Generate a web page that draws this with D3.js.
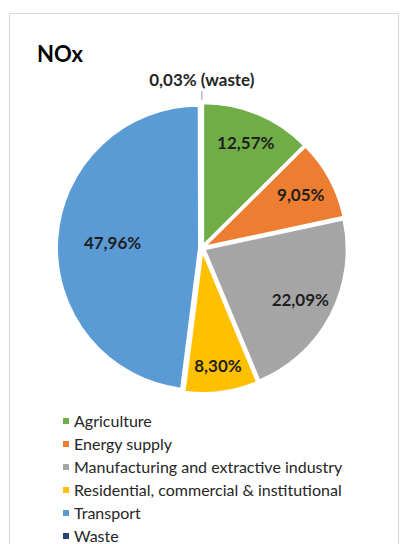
<!DOCTYPE html>
<html>
<head>
<meta charset="utf-8">
<script src="https://cdn.jsdelivr.net/npm/d3@7/dist/d3.min.js"></script>
<style>
  html, body { margin: 0; padding: 0; background: #ffffff; }
  svg { display: block; }
  text { font-family: Lato, "Open Sans", sans-serif; }
</style>
</head>
<body>
<svg id="chart" width="400" height="544"></svg>
<script>
// NOx emissions by sector (share of total, %)
const sectors = [
  "Agriculture",
  "Energy supply",
  "Manufacturing and extractive industry",
  "Residential, commercial & institutional",
  "Transport",
  "Waste"
];
const shares = [12.57, 9.05, 22.09, 8.30, 47.96, 0.03];
const valueLabels = ["12,57%", "9,05%", "22,09%", "8,30%", "47,96%", "0,03% (waste)"];
const colors = ["#70ad47", "#ed7d31", "#a5a5a5", "#ffc000", "#5b9bd5", "#264478"];

const svg = d3.select("#chart");

// chart frame
svg.append("rect")
  .attr("x", 9.5).attr("y", 13.5)
  .attr("width", 389).attr("height", 560)
  .attr("fill", "#ffffff")
  .attr("stroke", "#d9d9d9")
  .attr("stroke-width", 1);

// title
svg.append("text")
  .attr("x", 37).attr("y", 62)
  .attr("font-size", 22).attr("font-weight", 700)
  .attr("fill", "#000000")
  .text("NOx");

// pie layout
const cx = 202, cy = 248, R = 142, explode = 3;
const data = sectors.map((s, i) => ({ sector: s, value: shares[i], label: valueLabels[i], color: colors[i] }));
const pie = d3.pie().value(d => d.value).sort(null).startAngle(0).endAngle(2 * Math.PI);
const arcs = pie(data);
const arc = d3.arc().innerRadius(0).outerRadius(R);

const g = svg.append("g").attr("transform", `translate(${cx},${cy})`);

function offset(a, dist) {
  const m = (a.startAngle + a.endAngle) / 2;
  return [Math.sin(m) * dist, -Math.cos(m) * dist];
}

g.selectAll("path.slice")
  .data(arcs)
  .join("path")
  .attr("class", "slice")
  .attr("d", arc)
  .attr("transform", d => { const [x, y] = offset(d, explode); return `translate(${x},${y})`; })
  .attr("fill", d => d.data.color)
  .attr("stroke", "#ffffff")
  .attr("stroke-width", 2);

// inside labels: radial depth per slice (fraction of the radius)
const labelDepth = [0.78, 0.77, 0.76, 0.82, 0.61];
g.selectAll("text.val")
  .data(arcs.slice(0, 5))
  .join("text")
  .attr("class", "val")
  .attr("transform", (d, i) => {
    const [ox, oy] = offset(d, explode);
    const [lx, ly] = offset(d, R * labelDepth[i]);
    return `translate(${ox + lx},${oy + ly})`;
  })
  .attr("text-anchor", "middle")
  .attr("dy", "0.36em")
  .attr("font-size", 17).attr("font-weight", 700)
  .attr("fill", "#1f1f1f")
  .text(d => d.data.label);

// outside label for the tiny waste slice, with leader line
const waste = arcs[5];
const wm = (waste.startAngle + waste.endAngle) / 2;
const p0 = [Math.sin(wm) * (R + explode + 3), -Math.cos(wm) * (R + explode + 3)];
const p1 = [Math.sin(wm) * (R + explode + 12), -Math.cos(wm) * (R + explode + 12)];
g.append("line")
  .attr("x1", p0[0]).attr("y1", p0[1])
  .attr("x2", p1[0]).attr("y2", p1[1])
  .attr("stroke", "#8c9bb0").attr("stroke-width", 1);
g.append("text")
  .attr("x", p1[0]).attr("y", p1[1] - 5)
  .attr("text-anchor", "middle")
  .attr("font-size", 17).attr("font-weight", 700)
  .attr("fill", "#262626")
  .text(waste.data.label);

// legend
const legend = svg.append("g").attr("transform", "translate(63,0)");
const rowY = d3.scaleLinear().domain([0, 5]).range([421, 536]);
const items = legend.selectAll("g.item")
  .data(data)
  .join("g")
  .attr("class", "item")
  .attr("transform", (d, i) => `translate(0,${rowY(i)})`);
items.append("rect")
  .attr("x", 0).attr("y", -3)
  .attr("width", 6).attr("height", 6)
  .attr("fill", d => d.color);
items.append("text")
  .attr("x", 11).attr("dy", "0.36em")
  .attr("font-size", 16)
  .attr("fill", "#262626")
  .text(d => d.sector);
</script>
</body>
</html>
